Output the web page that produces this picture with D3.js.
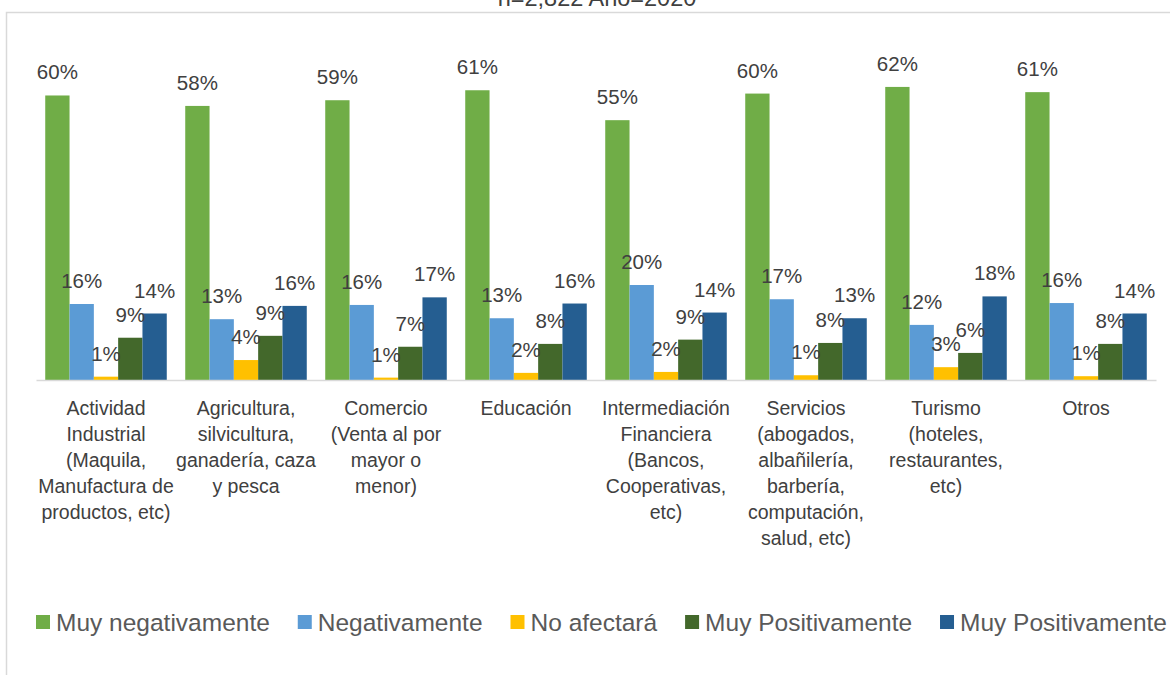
<!DOCTYPE html>
<html>
<head>
<meta charset="utf-8">
<script src="https://cdn.jsdelivr.net/npm/d3@7"></script>
<style>
  html, body { margin: 0; padding: 0; background: #fff; }
  svg { display: block; font-family: "Liberation Sans", Arial, sans-serif; }
</style>
</head>
<body>
<svg id="chart" width="1170" height="675"></svg>
<script>
// ---- Data ----
const titleText = "n=2,822 Año=2020";
const categories = [
  ["Actividad", "Industrial", "(Maquila,", "Manufactura de", "productos, etc)"],
  ["Agricultura,", "silvicultura,", "ganadería, caza", "y pesca"],
  ["Comercio", "(Venta al por", "mayor o", "menor)"],
  ["Educación"],
  ["Intermediación", "Financiera", "(Bancos,", "Cooperativas,", "etc)"],
  ["Servicios", "(abogados,", "albañilería,", "barbería,", "computación,", "salud, etc)"],
  ["Turismo", "(hoteles,", "restaurantes,", "etc)"],
  ["Otros"]
];
const seriesNames = ["Muy negativamente", "Negativamente", "No afectará", "Muy Positivamente", "Muy Positivamente"];
const seriesColors = ["#70AD47", "#5B9BD5", "#FFC000", "#43682B", "#255E91"];
const muyNegativamente = [0.599, 0.577, 0.589, 0.610, 0.547, 0.603, 0.617, 0.606];
const negativamente    = [0.160, 0.128, 0.158, 0.130, 0.200, 0.170, 0.116, 0.162];
const noAfectara       = [0.007, 0.042, 0.005, 0.015, 0.017, 0.010, 0.027, 0.008];
const muyPositivamente = [0.089, 0.093, 0.070, 0.076, 0.085, 0.078, 0.057, 0.076];
const muyPositivamente2= [0.140, 0.156, 0.174, 0.161, 0.142, 0.130, 0.176, 0.140];
const seriesValues = [muyNegativamente, negativamente, noAfectara, muyPositivamente, muyPositivamente2];

// ---- Layout ----
const svg = d3.select("#chart");
const plotLeft = 36, plotRight = 1156, baseY = 380;
const yMax = 0.70;

// chart frame
svg.append("rect")
  .attr("x", 6.5).attr("y", 12.5)
  .attr("width", 1300).attr("height", 800)
  .attr("fill", "none").attr("stroke", "#d9d9d9").attr("stroke-width", 1.5);

// title (cut off at top, as in the reference)
svg.append("text")
  .attr("x", 597).attr("y", 6)
  .attr("text-anchor", "middle")
  .attr("font-size", 23.5)
  .attr("fill", "#404040")
  .text(titleText);

const x0 = d3.scaleBand()
  .domain(d3.range(categories.length))
  .range([plotLeft, plotRight])
  .paddingInner(0).paddingOuter(0);

const x1 = d3.scaleBand()
  .domain(d3.range(seriesNames.length))
  .range([0, x0.bandwidth()])
  .paddingInner(0).paddingOuter(0.38);

const y = d3.scaleLinear().domain([0, yMax]).range([baseY, baseY - yMax * 475]);

const fmt = d3.format(".0%");

const groups = svg.append("g").selectAll("g")
  .data(categories)
  .join("g")
  .attr("transform", (d, i) => `translate(${x0(i)},0)`);

seriesNames.forEach((name, s) => {
  groups.append("rect")
    .attr("x", (d, i) => x1(s))
    .attr("y", (d, i) => y(seriesValues[s][i]))
    .attr("width", x1.bandwidth())
    .attr("height", (d, i) => baseY - y(seriesValues[s][i]))
    .attr("fill", seriesColors[s]);
});

// axis line
svg.append("g")
  .attr("transform", `translate(0,${baseY})`)
  .call(d3.axisBottom(x0).tickSize(0).tickFormat(""))
  .call(g => g.select(".domain").attr("stroke", "#d9d9d9").attr("stroke-width", 1.5));

// data labels
seriesNames.forEach((name, s) => {
  groups.append("text")
    .attr("x", (d, i) => x1(s) + x1.bandwidth() / 2)
    .attr("y", (d, i) => y(seriesValues[s][i]) - 16)
    .attr("text-anchor", "middle")
    .attr("font-size", 20.5)
    .attr("fill", "#404040")
    .text((d, i) => fmt(seriesValues[s][i]));
});

// category labels
groups.append("text")
  .attr("text-anchor", "middle")
  .attr("font-size", 19.5)
  .attr("fill", "#404040")
  .each(function(d) {
    const t = d3.select(this);
    d.forEach((line, k) => {
      t.append("tspan")
        .attr("x", x0.bandwidth() / 2)
        .attr("y", 415 + k * 26)
        .text(line);
    });
  });

// legend
const legend = svg.append("g");
const items = legend.selectAll("g").data(seriesNames).join("g");
items.append("rect")
  .attr("width", 14).attr("height", 14)
  .attr("y", 615)
  .attr("fill", (d, i) => seriesColors[i]);
items.append("text")
  .attr("x", 20).attr("y", 631)
  .attr("font-size", 24.5)
  .attr("fill", "#595959")
  .text(d => d);
const widths = [];
items.each(function() {
  widths.push(d3.select(this).select("text").node().getComputedTextLength());
});
const legStart = 36, legEnd = 1167;
const used = d3.sum(widths) + 20 * widths.length;
const gap = (legEnd - legStart - used) / (widths.length - 1);
let xpos = legStart;
const positions = widths.map(w => { const p = xpos; xpos += 20 + w + gap; return p; });
items.attr("transform", (d, i) => `translate(${positions[i]},0)`);
</script>
</body>
</html>
